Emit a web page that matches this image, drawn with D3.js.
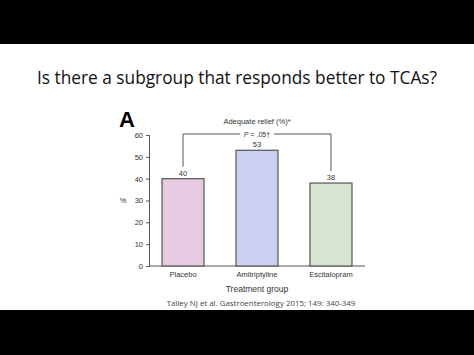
<!DOCTYPE html>
<html><head><meta charset="utf-8">
<script src="https://cdn.jsdelivr.net/npm/d3@7"></script>
<style>body{margin:0;background:#fff}svg{display:block}</style>
</head><body>
<svg id="c" width="474" height="355"></svg>
<script>
const categories = ["Placebo", "Amitriptyline", "Escitalopram"];
const values = [40, 53, 38];
const colors = ["#e6cae2", "#cbd0f0", "#d6e5cf"];
const yTicks = [0, 10, 20, 30, 40, 50, 60];

const svg = d3.select("#c");
svg.append("rect").attr("x",0).attr("y",0).attr("width",474).attr("height",44).attr("fill","#000");
svg.append("rect").attr("x",0).attr("y",310).attr("width",474).attr("height",45).attr("fill","#000");

svg.append("text").attr("x",237).attr("y",84).attr("text-anchor","middle")
  .attr("font-family","Open Sans, sans-serif").attr("font-size",17.3).attr("fill","#111")
  .text("Is there a subgroup that responds better to TCAs?");

svg.append("text").attr("x",119).attr("y",127).attr("font-family","Liberation Sans, Arial, sans-serif")
  .attr("font-weight","bold").attr("font-size",22).attr("fill","#000").text("A");

const y = d3.scaleLinear().domain([0,60]).range([266,135]);
const x = d3.scaleBand().domain(categories).range([149,365]).paddingInner(0.432).paddingOuter(0.176);

const font = "Liberation Sans, Arial, sans-serif";
const yAxis = svg.append("g").attr("transform","translate(149,0)")
  .call(d3.axisLeft(y).tickValues(yTicks).tickSize(3).tickPadding(3));
yAxis.selectAll("text").attr("font-family",font).attr("font-size",7.5).attr("fill","#333");
yAxis.selectAll("line,path").attr("stroke","#555");

const xAxis = svg.append("g").attr("transform","translate(0,266)")
  .call(d3.axisBottom(x).tickSize(0).tickPadding(6).tickSizeOuter(0));
xAxis.select("path").attr("d","M149,0H365").attr("stroke","#555");
xAxis.selectAll("text").attr("font-family",font).attr("font-size",7.5).attr("fill","#333");

svg.selectAll("rect.bar").data(values).enter().append("rect").attr("class","bar")
  .attr("x",(d,i)=>x(categories[i])).attr("width",x.bandwidth())
  .attr("y",d=>y(d)).attr("height",d=>y(0)-y(d))
  .attr("fill",(d,i)=>colors[i]).attr("stroke","#555").attr("stroke-width",1.2);

svg.selectAll("text.val").data(values).enter().append("text").attr("class","val")
  .attr("x",(d,i)=>x(categories[i])+x.bandwidth()/2).attr("y",d=>y(d)-3)
  .attr("text-anchor","middle").attr("font-family",font).attr("font-size",7.5).attr("fill","#333")
  .text(d=>d);

// bracket
const bx1 = x(categories[0])+x.bandwidth()/2, bx2 = x(categories[2])+x.bandwidth()/2;
const by = 134;
svg.append("path").attr("fill","none").attr("stroke","#555").attr("stroke-width",1)
  .attr("d",`M${bx1},${y(values[0])-12}V${by}H${bx2}V${y(values[2])-12}`);
svg.append("rect").attr("x",(bx1+bx2)/2-17).attr("y",by-4).attr("width",34).attr("height",8).attr("fill","#fff");
const pLabel = svg.append("text").attr("x",(bx1+bx2)/2).attr("y",by+2.5).attr("text-anchor","middle")
  .attr("font-family",font).attr("font-size",7).attr("fill","#333");
pLabel.append("tspan").attr("font-style","italic").text("P");
pLabel.append("tspan").text(" = .05\u2020");

svg.append("text").attr("x",257).attr("y",124).attr("text-anchor","middle")
  .attr("font-family",font).attr("font-size",7.5).attr("fill","#333").text("Adequate relief (%)*");
svg.append("text").attr("x",123).attr("y",203).attr("text-anchor","middle")
  .attr("font-family",font).attr("font-size",7.5).attr("fill","#333").text("%");
svg.append("text").attr("x",257).attr("y",292).attr("text-anchor","middle")
  .attr("font-family",font).attr("font-size",8.5).attr("fill","#333").text("Treatment group");
svg.append("text").attr("x",261).attr("y",306).attr("text-anchor","middle")
  .attr("font-family","Open Sans, sans-serif").attr("font-size",7.9).attr("fill","#444")
  .text("Talley NJ et al. Gastroenterology 2015; 149: 340-349");
</script>
</body></html>
